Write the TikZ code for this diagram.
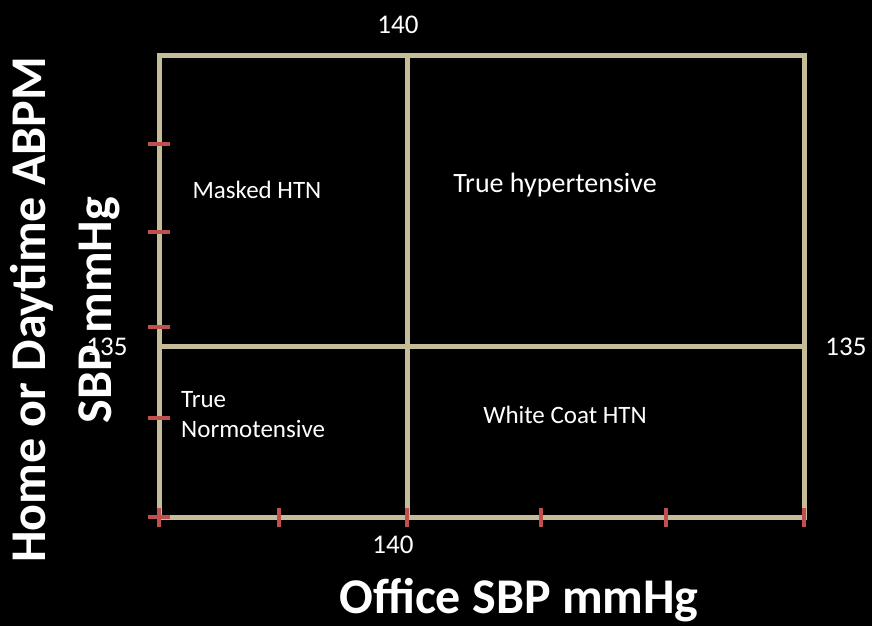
\documentclass[tikz,border=0pt]{standalone}
\usepackage{fontspec}
\setmainfont{Carlito}
\usepackage{xcolor}
\usepackage{tikz}
\usetikzlibrary{positioning,calc}
\definecolor{gridT}{RGB}{196,189,151}
\definecolor{tickR}{RGB}{192,80,77}

\begin{document}
\begin{tikzpicture}[
  x=1pt, y=-1pt,
  grid/.style={draw=gridT, line width=5pt},
  tick/.style={draw=tickR, line width=3.5pt},
  lbl/.style={text=white, inner sep=0pt, font=\fontsize{25}{30}\selectfont},
  num/.style={text=white, inner sep=0pt, font=\fontsize{27}{30}\selectfont},
  axis/.style={text=white, inner sep=0pt, font=\fontsize{50}{66}\selectfont\bfseries}
]
\fill[black] (0,0) rectangle (872,626);
\useasboundingbox (0,0) rectangle (872,626);

% frame and cut lines
\coordinate (nw) at (159,56);
\coordinate (se) at (804,517);
\draw[grid] (nw) rectangle (se);
\draw[grid] (407,56) -- (407,517);
\draw[grid] (159,346) -- (804,346);

% ticks on the y axis
\foreach \ty in {144,232,327,418,517}
  \draw[tick] (148,\ty) -- (170,\ty);
% ticks on the x axis
\foreach \tx in {159,279,407,541,666,804}
  \draw[tick] (\tx,508) -- (\tx,527);

% cut values
\node[num] (xtop) at (398,25) {140};
\node[num] (xbot) at (393,545) {140};
\node[num] (yleft) at (107,347) {135};
\node[num] (yright) at (846,347) {135};

% quadrants
\node[lbl] (masked) at (257,190) {Masked HTN};
\node[lbl, font=\fontsize{28}{30}\selectfont] (truehtn) at (555,185) {True hypertensive};
\node[lbl, align=left, anchor=west] (normo) at (181,415) {True\\Normotensive};
\node[lbl] (white) at (565,415) {White Coat HTN};

% axis titles
\node[axis] (xtitle) at (519,600) {Office SBP mmHg};
\node[axis, rotate=90, align=center] (ytitle) at (65,310) {Home or Daytime ABPM\\SBP mmHg};

\end{tikzpicture}
\end{document}
